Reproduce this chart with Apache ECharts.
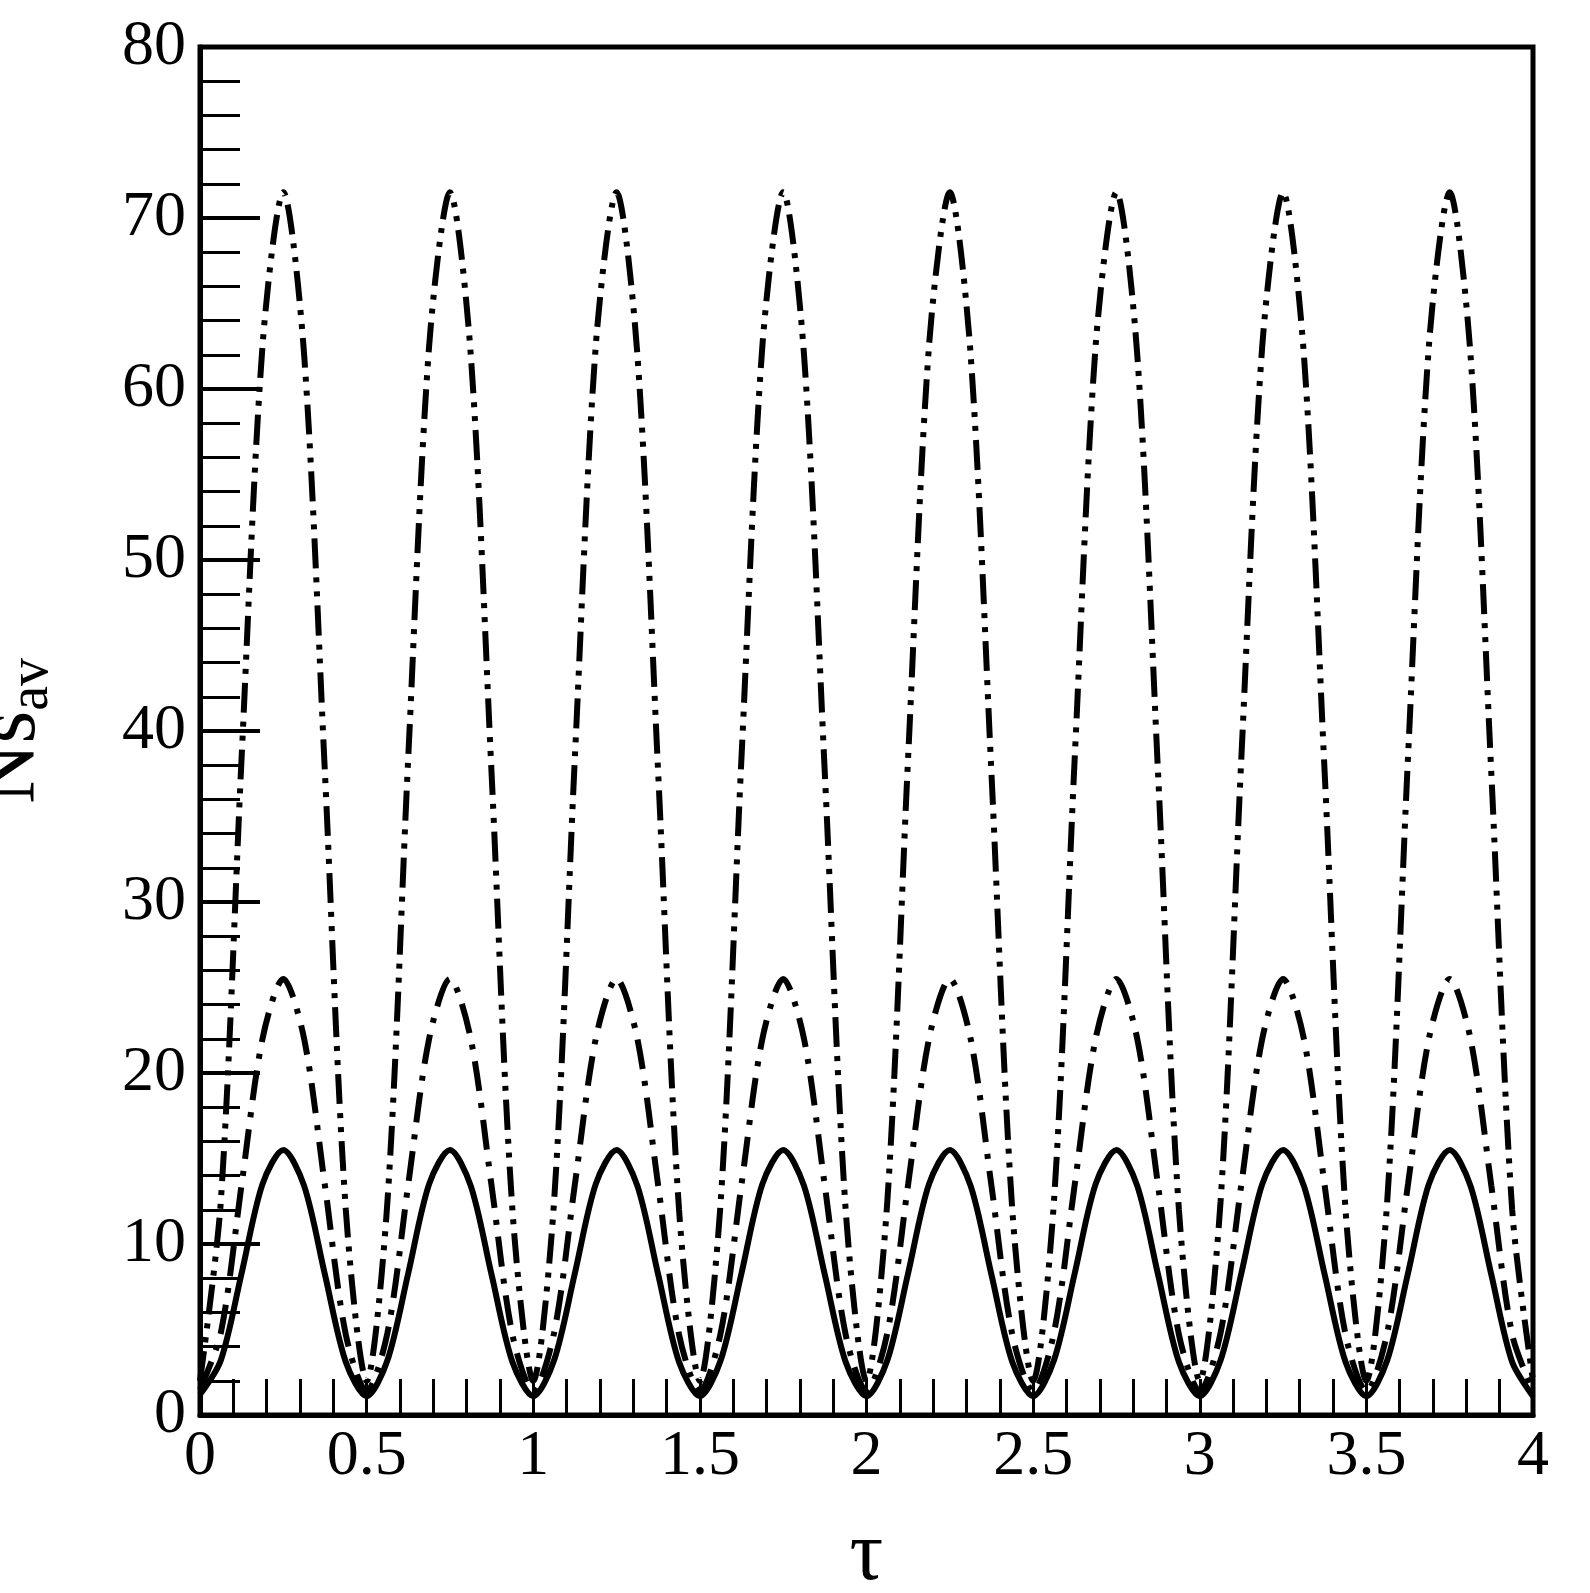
<!DOCTYPE html>
<html><head><meta charset="utf-8">
<script src="https://cdn.jsdelivr.net/npm/echarts@6/dist/echarts.min.js"></script>
<style>html,body{margin:0;padding:0;background:#fff}#c{width:1590px;height:1593px}</style>
</head><body><div id="c"></div>
<script>
const xStep = 0.0625;
const solid = [1.2,3.2,8.3,13.5,15.5,13.4,8.2,3.1,1.1,3.2,8.3,13.5,15.5,13.4,8.2,3.1,1.1,3.2,8.3,13.5,15.5,13.4,8.2,3.1,1.1,3.2,8.3,13.5,15.5,13.4,8.2,3.1,1.1,3.2,8.3,13.5,15.5,13.4,8.2,3.1,1.1,3.2,8.3,13.5,15.5,13.4,8.2,3.1,1.1,3.2,8.3,13.5,15.5,13.4,8.2,3.1,1.1,3.2,8.3,13.5,15.5,13.4,8.2,3.1,1.1];
const dashDot = [1.5,4.8,13.5,22.0,25.5,22.0,13.4,4.7,1.4,4.8,13.5,22.0,25.5,22.0,13.4,4.7,1.4,4.8,13.5,22.0,25.5,22.0,13.4,4.7,1.4,4.8,13.5,22.0,25.5,22.0,13.4,4.7,1.4,4.8,13.5,22.0,25.5,22.0,13.4,4.7,1.4,4.8,13.5,22.0,25.5,22.0,13.4,4.7,1.4,4.8,13.5,22.0,25.5,22.0,13.4,4.7,1.4,4.8,13.5,22.0,25.5,22.0,13.4,4.7,1.4];
const dashDotDot = [2.0,12.5,38.5,62.5,71.5,62.0,37.5,12.0,2.0,12.5,38.5,62.5,71.5,62.0,37.5,12.0,2.0,12.5,38.5,62.5,71.5,62.0,37.5,12.0,2.0,12.5,38.5,62.5,71.5,62.0,37.5,12.0,2.0,12.5,38.5,62.5,71.5,62.0,37.5,12.0,2.0,12.5,38.5,62.5,71.5,62.0,37.5,12.0,2.0,12.5,38.5,62.5,71.5,62.0,37.5,12.0,2.0,12.5,38.5,62.5,71.5,62.0,37.5,12.0,2.0];
const toPts = a => a.map((v,i)=>[i*xStep, v]);
const font = '"Liberation Serif", "DejaVu Serif", serif';
const chart = echarts.init(document.getElementById('c'));
const line = (d, type) => ({type:'line', data: toPts(d), showSymbol:false, smooth:0.3,
  lineStyle:{color:'#000', width:6, type:type}});
chart.setOption({
  animation:false,
  grid:{left:200,right:57,top:47,bottom:178,outerBoundsMode:'none',containLabel:false,show:true,borderColor:'#000',borderWidth:5},
  xAxis:{type:'value',min:0,max:4,interval:0.5,name:'τ',nameLocation:'middle',nameGap:100,
    nameTextStyle:{fontFamily:font,fontSize:84,color:'#000'},
    axisLine:{show:true,lineStyle:{color:'#000',width:5}},
    axisTick:{inside:true,length:36,lineStyle:{color:'#000',width:3}},
    minorTick:{show:true,splitNumber:5,length:36,lineStyle:{color:'#000',width:3}},
    splitLine:{show:false},
    axisLabel:{fontFamily:font,fontSize:64,color:'#000',margin:10,formatter:v=>String(v)}},
  yAxis:{type:'value',min:0,max:80,interval:10,name:'{a|Ns}{b|av}',nameLocation:'middle',nameGap:140,nameRotate:90,
    nameTextStyle:{rich:{a:{fontFamily:font,fontSize:84,color:'#000'},b:{fontFamily:font,fontSize:56,color:'#000',verticalAlign:'bottom',padding:[40,0,0,0]}}},
    axisLine:{show:true,lineStyle:{color:'#000',width:5}},
    axisTick:{inside:true,length:60,lineStyle:{color:'#000',width:4}},
    minorTick:{show:true,splitNumber:5,length:40,lineStyle:{color:'#000',width:3}},
    splitLine:{show:false},
    axisLabel:{fontFamily:font,fontSize:64,color:'#000',margin:14}},
  series:[line(solid,'solid'), line(dashDot,[30,12,5,12]), line(dashDotDot,[30,9,5,9,5,9])]
});
</script></body></html>
